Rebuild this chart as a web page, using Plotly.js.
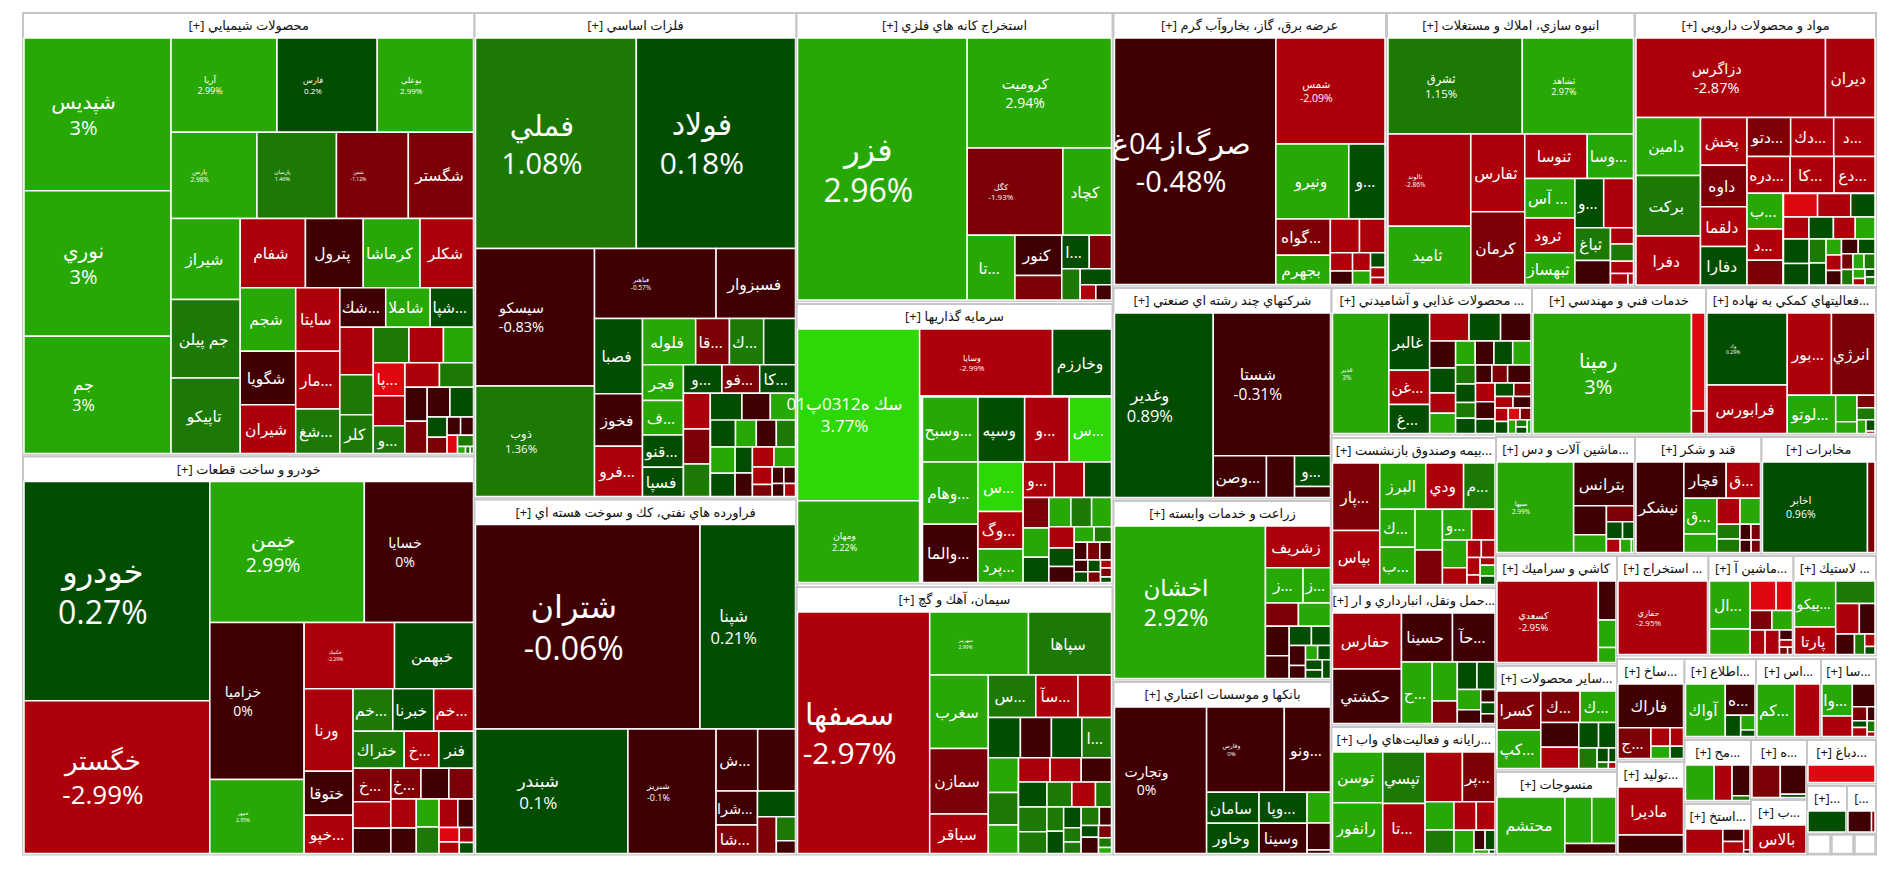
<!DOCTYPE html>
<html><head><meta charset="utf-8">
<script src="https://cdn.plot.ly/plotly-3.0.1.min.js"></script>
<style>html,body{margin:0;padding:0;background:#fff}#chart{width:1900px;height:873px}</style>
</head><body><div id="chart"></div>
<script>
// ---------- DATA: one set of small arrays per sector ----------
const chemT=['شپديس','نوري','جم','آريا','فارس','بوعلي','پارس','پارسان','شفن','شگستر','شيراز','جم پيلن','تاپيكو','شفام','پترول','كرماشا','شكلر','شجم','شگويا','شيران','سايتا','مار...','شغ...','شك...','شاملا','شپا...','','','كلر','','','','پا...','','و...'];
const chemV=[2011,1914,1544,894,846,812,663,614,555,503,501,486,468,404,358,352,331,315,266,242,251,228,176,162,157,153,142,120,116,114,110,96,93,85,79,75,74,68,64,61,63,36,29,22,21,17,16,5,3,2];
const chemC=[3,3,3,2.99,0.2,2.99,2.98,1.46,-1.12,-1.5,2.5,1.5,1.5,-2.5,-0.5,2.5,-2.5,2.5,-0.5,-2.5,-2.5,-2.5,1.5,-0.5,2.5,0.5,-2.5,1.5,1.5,1.5,-2.5,2.5,-3.5,-2.5,1.5,-2.5,1.5,-0.5,-1.5,-0.5,0.5,0.5,-1.5,-0.5,-0.5,-3.5,1.5,2.5,1.5,1.5];

const autoT=['خودرو','خگستر','خيمن','خسايا','خزاميا','خمهر','خكمك','خبهمن','ورنا','ختوقا','خپو...','خم...','خبرنا','خم...','ختراك','خ...','فنر','خ...','','','خ...'];
const autoV=[3653,2546,1954,1380,1328,626,537,469,362,193,168,152,156,152,170,115,115,113,90,86,83,77,68,66,58,57,54,48,40,26,21,19,14];
const autoC=[0.27,-2.99,2.99,0,0,2.95,-2.29,0.5,-2.5,-0.5,-2.5,1.5,0.5,-2.5,1.5,-2.5,0.5,-1.5,-2.5,-0.5,-1.5,-0.5,-1.5,-2.5,-0.5,2.5,1.5,-2.5,-0.5,-3.5,-2.5,-2.5,0.5];

const metalT=['فملي','فولاد','سيسكو','ذوب','فباهنر','فسبزوار','فصبا','فخوز','فرو...','فلوله','قا...','ك...','','فجر','ف...','قنو...','فسپا','و...','فو...','كا...'];
const metalV=[3024,2993,1463,1175,762,498,322,226,215,219,139,141,131,131,126,118,107,98,96,91,86,84,78,78,70,62,577];
const metalC=[1.08,0.18,-0.83,1.36,-0.57,-0.5,0.5,-0.5,-2.5,2.5,-1.5,1.5,0.5,2.5,2.5,0.5,0.5,0.5,-1.5,0.5,-2.5,-1.5,1.5,0.5,-0.5,2.5,null];
const metalRowV=[60,50,48,46];
const metalRowC=[0.5,2.5,-0.5,1.5];
const metalRestV=[57,51,40,36,38,38,31,21,17,17,14,13];
const metalRestC=[2.5,0.5,0.5,-0.5,-2.5,2.5,-2.5,-1.5,-0.5,-0.5,-0.5,-2.5];

const refT=['شتران','شپنا','شبندر','شبريز','ش...','','شرا...','شا...'];
const refV=[4100,1744,1697,981,231,210,126,105,87,62,41,22];
const refC=[-0.06,0.21,0.1,-0.1,-0.5,-0.5,-0.5,-1.5,0.5,-1.5,1.5,-0.5];

const mineT=['فزر','كروميت','كگل','كچاد','تا...','كنور','','ا...'];
const mineV=[3539,1263,666,338,246,150,91,73,59,46,40,19,19];
const mineC=[2.96,2.94,-1.93,2.5,2.5,-0.5,-1.5,0.5,-1.5,1.5,0.5,-2.5,-0.5];

const investT=['سك ه0312پ01','ومهان','وساپا','وخارزم',''];
const investV=[1657,788,703,312,2825];
const investC=[3.77,2.22,-2.99,0.5,null];
const investRowT=['وسبح...','وسپه','و...','س...'];
const investRowV=[286,241,230,218];
const investRowC=[2.5,0.5,-2.5,3.5];
const investRestT=['وهام...','والما...','س...','وگ...','پرد...','و...'];
const investRestV=[281,262,182,137,123,90,86,79,64,61,53,52,49,47,44,38,33,25,22,19,18,17,13,12,12,11,7,8,5];
const investRestC=[2.5,-0.5,3.5,-2.5,2.5,-2.5,-2.5,0.5,-1.5,2.5,0.5,2.5,1.5,2.5,-2.5,0.5,-0.5,2.5,1.5,-0.5,-1.5,-0.5,-0.5,0.5,0.5,-1.5,-2.5,-1.5,0.5];

const cementT=['سصفها','سهرمز','سپاها','سغرب','سمازن','سباقر','س...','سآ...','','','','','ا...'];
const cementV=[2860,558,469,385,345,207,180,160,127,116,112,110,107,94,88,77,70,69,67,592];
const cementC=[-2.97,2.99,1.5,2.5,-1.5,-2.5,1.5,-2.5,-2.5,0.5,-0.5,0.5,1.5,2.5,1.5,2.5,-2.5,-2.5,-0.5,null];
const cementRowV=[64,56,53,36];
const cementRowC=[0.5,1.5,-2.5,1.5];
const cementRestV=[62,55,36,33,32,22,18,30,20,18,25,14,11,7];
const cementRestC=[1.5,1.5,1.5,0.5,0.5,1.5,1.5,1.5,-0.5,0.5,-0.5,-1.5,1.5,2.5];

const elecT=['صرگ‌از04غ','شمس','ونيرو','و...','گواه...','بجهرم'];
const elecV=[3557,1033,490,243,176,143,88,77,36,27,29,22,19,13,9];
const elecC=[-0.48,-2.09,2.5,0.5,-1.5,2.5,-2.5,-2.5,-2.5,-0.5,-2.5,2.5,0.5,-2.5,-2.5];

const buildT=['ثشرق','ثشاهد','ثالوند','ثاميد','ثفارس','كرمان','ثنوسا','وسا...','آس ...','ثرود','ثبهساز','و...','','ثباغ'];
const buildV=[1273,1054,754,475,413,387,273,202,196,172,157,140,145,115,84,37,39,28,19,6];
const buildC=[1.15,2.97,-2.86,2.5,-2.5,-1.5,-2.5,2.5,2.5,-2.5,2.5,0.5,-2.5,1.5,-0.5,-2.5,1.5,-2.5,-2.5,-2.5];

const pharmaT=['دزاگرس','ديران','دامين','بركت','دفرا','پخش','داوه','دلقما','دفارا','دتو...','دك...','د...','دره...','كا...','دع...','ب...','د...'];
const pharmaV=[1332,348,330,346,279,196,171,164,158,150,148,142,140,143,133,114,100,79,746];
const pharmaC=[-2.87,-2.5,2.5,1.5,-2.5,-2.5,-1.5,-2.5,0.5,-1.5,-2.5,-2.5,-2.5,-2.5,-2.5,2.5,-2.5,-1.5,null];
const pharmaTopV=[73,71,52];
const pharmaTopC=[-3.5,-2.5,0.5];
const pharmaRowV=[49,47,42,38];
const pharmaRowC=[-2.5,0.5,-2.5,2.5];
const pharmaRestV=[56,49,36,33,22,21,20,22,22,16,16,15,15,10,7,7,7];
const pharmaRestC=[0.5,0.5,1.5,0.5,2.5,-2.5,-0.5,-0.5,0.5,-1.5,1.5,2.5,1.5,2.5,-2.5,0.5,1.5];

const multiT=['وغدير','شستا','وصن...','','و...',''];
const multiV=[1611,1479,197,104,98,35];
const multiC=[0.89,-0.31,-0.5,-0.5,0.5,-0.5];

const foodT=['غدير','غالبر','غن...','غ...'];
const foodV=[648,222,133,113,105,84,81,67,62,50,50,45,43,43,42,36,35,30,29,28,27,40,35,32,27,24,22,20,20,17,15,13,12,10,8,7,5];
const foodC=[3,0.5,-2.5,0.5,-2.5,0.5,-0.5,-0.5,0.5,-2.5,2.5,2.5,-0.5,0.5,2.5,1.5,0.5,1.5,0.5,-0.5,-1.5,-0.5,-2.5,-0.5,0.5,0.5,-1.5,-2.5,-0.5,-2.5,0.5,-3.5,-1.5,2.5,1.5,0.5,2.5];

const techT=['رمپنا','',''];
const techV=[1685,117,27];
const techC=[3,-3.5,-2.5];

const auxT=['وك','فرابورس','بور...','انرژي','لوتو...'];
const auxV=[510,344,321,316,164,50,22,20,19,11,9,2];
const auxC=[0.29,-2.5,-2.5,-1.5,2.5,2.5,2.5,-1.5,1.5,2.5,0.5,-2.5];

const agriT=['اخشان','زشريف','ز...','ز...'];
const agriV=[2265,267,130,95,76,74,69,53,42,36,32,21,17,18,17,14,15];
const agriC=[2.92,-2.5,2.5,2.5,-1.5,2.5,-0.5,-0.5,0.5,0.5,-0.5,-0.5,2.5,0.5,0.5,0.5,0.5];

const bankT=['وتجارت','وفارس','ونو...','سامان','وخاور','وپا...','وسينا','','',''];
const bankV=[1196,587,349,144,141,132,129,64,56,7];
const bankC=[0,0,-0.5,0.5,0.5,0.5,-0.5,2.5,-0.5,-0.5];

const insureT=['پار...','بپاس','البرز','ودي','م...','ك...','ب...','','','و...'];
const insureV=[279,224,186,153,127,118,115,98,83,79,63,60,36,22,21,20,11,10,14,11];
const insureC=[-1.5,-2.5,2.5,-2.5,1.5,2.5,2.5,2.5,-1.5,2.5,-2.5,2.5,-2.5,-2.5,-2.5,-2.5,-2.5,-2.5,2.5,0.5];

const transT=['حفارس','حكشتي','حسينا','حآ...','ح...'];
const transV=[334,326,216,180,164,85,49,47,43,41,28,16,14,12];
const transC=[-2.5,-0.5,-0.5,-0.5,2.5,2.5,-1.5,0.5,0.5,2.5,-0.5,-0.5,0.5,-0.5];

const compT=['توسن','رانفور','تپسي','تا...','','پر...'];
const compV=[225,225,192,187,164,143,72,60,56,47,41,19,17,5,2];
const compC=[2.5,2.5,1.5,-2.5,-2.5,-1.5,2.5,1.5,-2.5,-2.5,2.5,-0.5,0.5,2.5,0.5];

const machT=['سيها','بترانس'];
const machV=[598,228,82,50,38,24,17,16,13,3];
const machC=[2.99,-0.5,-0.5,2.5,-1.5,0.5,0.5,-2.5,2.5,2.5];

const sugarT=['نيشكر','قچار','ق...','ق...'];
const sugarV=[375,133,108,102,53,52,46,29,27,15,13,12,10];
const sugarC=[-0.5,-0.5,-2.5,2.5,2.5,-2.5,2.5,1.5,1.5,-0.5,-1.5,-0.5,-1.5];

const telT=['اخابر',''];
const telV=[823,59];
const telC=[0.96,-1.5];

const ceramT=['كسعدي','','',''];
const ceramV=[717,60,42,23];
const ceramC=[-2.95,-0.5,2.5,2.5];

const otherT=['كسرا','كپ...','ك...','ك...'];
const otherV=[145,144,105,96,80,69,43,38,32,14,9,6,4];
const otherC=[-1.5,2.5,-1.5,2.5,-0.5,-2.5,0.5,0.5,1.5,0.5,0.5,1.5,-2.5];

const textileT=['محتشم','','',''];
const textileV=[335,109,98,45];
const textileC=[2.5,2.5,2.5,-0.5];

const omineT=['حفاري'];
const omineV=[100];
const omineC=[-2.95];

const mach2T=['ال...'];
const mach2V=[166,88,65,41,36,34,31,30,11,8,5,3];
const mach2C=[2.5,2.5,-3.5,-3.5,-1.5,2.5,-2.5,-2.5,-0.5,-2.5,-1.5,-1.5];

const rubberT=['پيكو...','پارتا'];
const rubberV=[163,97,76,62,41,33,18,11,7];
const rubberC=[2.5,-2.5,1.5,-2.5,-0.5,-0.5,1.5,-2.5,0.5];

const sakhT=['فاراك','ج...'];
const sakhV=[244,86,30,20,21,14];
const sakhC=[-0.5,-1.5,-2.5,2.5,-2.5,0.5];

const tolidT=['ماديرا',''];
const tolidV=[273,105];
const tolidC=[-2.5,-0.5];

const infoT=['آواك','ه...'];
const infoV=[178,79,28,18,8];
const infoC=[2.5,-0.5,0.5,2.5,0.5];

const asT=['كم...',''];
const asV=[167,112];
const asC=[2.5,-2.5];

const saT=['وا...'];
const saV=[79,51,42,17,9,8,11,7,3];
const saC=[2.5,-2.5,-0.5,-1.5,-0.5,0.5,-2.5,1.5,-2.5];

const mahT=[''];
const mahV=[83,52,45,7];
const mahC=[2.5,-2.5,-0.5,1.5];

const haT=[''];
const haV=[75,61,7];
const haC=[-1.5,-0.5,0.5];

const dabT=[''];
const dabV=[100];
const dabC=[-3.5];

const estT=[''];
const estV=[77,22,21,11,2];
const estC=[-2.5,-0.5,-2.5,-2.5,-0.5];

const baT=['بالاس'];
const baV=[100];
const baC=[-2.5];

const sm1T=[''];const sm1V=[100];const sm1C=[0.5];
const sm2T=[''];const sm2V=[41,6];const sm2C=[-0.5,-1.5];
const emptyT=[''];const emptyV=[1];const emptyC=[null];
const noNames=[];

// ---------- SECTOR TITLES ----------
const sectorTitles=['[+] محصولات شيميايي','[+] خودرو و ساخت قطعات','[+] فلزات اساسي','[+] فراورده هاي نفتي، كك و سوخت هسته اي','[+] استخراج كانه هاي فلزي','[+] سرمايه گذاريها','[+] سيمان، آهك و گچ','[+] عرضه برق، گاز، بخاروآب گرم','[+] انبوه سازي، املاك و مستغلات','[+] مواد و محصولات دارويي','[+] شركتهاي چند رشته اي صنعتي','[+] محصولات غذايي و آشاميدني ...','[+] خدمات فني و مهندسي','[+] فعاليتهاي كمكي به نهاده...','[+] زراعت و خدمات وابسته','[+] بانكها و موسسات اعتباري','[+] بيمه وصندوق بازنشست...','[+] حمل ونقل، انبارداري و ار...','[+] رايانه و فعاليت‌هاي واب...','[+] ماشين آلات و دس...','[+] قند و شكر','[+] مخابرات','[+] كاشي و سراميك','[+] ساير محصولات...','[+] منسوجات','[+] استخراج ...','[+] ماشين آ...','[+] لاستيك ...','[+] ساخ...','[+] توليد...','[+] اطلاع...','[+] اس...','[+] سا...','[+] مح...','[+] ه...','[+] دباغ...','[+] استخ...','[+] ب...','[+]...','[...',null,null,null];

// ---------- LAYOUT TABLE (outer box of each sector: left,right,top,bottom in px) ----------
const sectorBoxes=[[23,474.5,13,454.5],[23,474.5,456.5,854.5],[474.5,796.5,13,497.5],[474.5,796.5,499.5,854.5],[796.5,1112.5,13,301],[796.5,1112.5,304,583.5],[796.5,1112.5,587,854.5],[1113.5,1386,13,285.5],[1387,1634.5,13,285.5],[1635,1876,13,286],[1113.5,1331.5,288,498.5],[1331.5,1532,288,434.5],[1532,1706,288,434.5],[1706,1876,288,434.5],[1113.5,1331.5,501,679.5],[1113.5,1331.5,682,854.5],[1331.5,1496,438,585.5],[1331.5,1496,588,724.5],[1331.5,1496,727,854.5],[1496,1635,437,553.5],[1635,1761.5,437,553.5],[1761.5,1876,437,553.5],[1496,1617,556,663.5],[1496,1617,666,769.5],[1496,1617,772,854.5],[1617,1708.5,556,655.5],[1708.5,1793.5,556,655.5],[1793.5,1876,556,655.5],[1617,1684.5,659,759.5],[1617,1684.5,762,854.5],[1684.5,1756,659,737.5],[1756,1821,659,737.5],[1821,1876,659,737.5],[1684.5,1751,740,801.5],[1751,1807,740,798.5],[1807,1876,740,783.5],[1684.5,1751,804,854.5],[1751,1807,800,854.5],[1807,1847,786,833],[1847,1876,786,833],[1807,1831,835,854.5],[1831,1854,835,854.5],[1854,1876,835,854.5]];

const sectorData=[[chemT,chemV,chemC],[autoT,autoV,autoC],[metalT,metalV,metalC],[refT,refV,refC],[mineT,mineV,mineC],[investT,investV,investC],[cementT,cementV,cementC],[elecT,elecV,elecC],[buildT,buildV,buildC],[pharmaT,pharmaV,pharmaC],[multiT,multiV,multiC],[foodT,foodV,foodC],[techT,techV,techC],[auxT,auxV,auxC],[agriT,agriV,agriC],[bankT,bankV,bankC],[insureT,insureV,insureC],[transT,transV,transC],[compT,compV,compC],[machT,machV,machC],[sugarT,sugarV,sugarC],[telT,telV,telC],[ceramT,ceramV,ceramC],[otherT,otherV,otherC],[textileT,textileV,textileC],[omineT,omineV,omineC],[mach2T,mach2V,mach2C],[rubberT,rubberV,rubberC],[sakhT,sakhV,sakhC],[tolidT,tolidV,tolidC],[infoT,infoV,infoC],[asT,asV,asC],[saT,saV,saC],[mahT,mahV,mahC],[haT,haV,haC],[dabT,dabV,dabC],[estT,estV,estC],[baT,baV,baC],[sm1T,sm1V,sm1C],[sm2T,sm2V,sm2C],[emptyT,emptyV,emptyC],[emptyT,emptyV,emptyC],[emptyT,emptyV,emptyC]];

// parts of a sector laid out on their own, over its empty remainder tile
const subParts=[
  {data:[investRowT,investRowV,investRowC],box:[922.5,1111.5,397,462],packing:'dice'},
  {data:[investRestT,investRestV,investRestC],box:[922.5,1111.5,462,582.5],packing:'squarify'},
  {data:[noNames,metalRowV,metalRowC],box:[710.5,795.5,420,447],packing:'dice'},
  {data:[noNames,metalRestV,metalRestC],box:[710.5,795.5,447,496.5],packing:'squarify'},
  {data:[noNames,cementRowV,cementRowC],box:[1018.5,1111.5,782,807],packing:'dice'},
  {data:[noNames,cementRestV,cementRestC],box:[1018.5,1111.5,807,853.5],packing:'squarify'},
  {data:[noNames,pharmaTopV,pharmaTopC],box:[1783.5,1875,193.5,217],packing:'dice'},
  {data:[noNames,pharmaRowV,pharmaRowC],box:[1783.5,1875,217,239],packing:'dice'},
  {data:[noNames,pharmaRestV,pharmaRestC],box:[1783.5,1875,239,285],packing:'squarify'}
];

// ---------- STYLE ----------
// font size of tiles that show the percentage; others show the ticker only
const percentFont={'خودرو':32,'خگستر':26,'خيمن':19.5,'خسايا':14,'خزاميا':14,'خمهر':5,'خكمك':5,'شپديس':20,'نوري':20,'جم':16,'آريا':9,'فارس':8,'بوعلي':8,'پارس':6.5,'پارسان':5.5,'شفن':5,'فملي':29,'فولاد':30,'سيسكو':14.5,'ذوب':11.5,'فباهنر':6.5,'شتران':32,'شپنا':16.5,'شبندر':17,'شبريز':9,'فزر':32,'كروميت':14,'كگل':8,'سك ه0312پ01':19,'ومهان':9,'وساپا':8,'سصفها':30,'سهرمز':5,'صرگ‌از04غ':29,'شمس':10.5,'ثشرق':11.5,'ثشاهد':9,'ثالوند':6.5,'دزاگرس':14.5,'وغدير':16.5,'شستا':15.5,'غدير':6.5,'رمپنا':20,'وك':5,'اخشان':23,'وتجارت':14,'وفارس':6,'سيها':6.5,'اخابر':10.5,'كسعدي':9.5,'حفاري':8};
const tickerFont=15.5;
const headerFont=13;
const FONT='"Open Sans","DejaVu Sans",sans-serif';
const W=1900,H=873,HEAD=25;
const percentNudge=-14,tickerNudge=-2;

function colorOf(c){
  if(c===null) return '#ffffff';
  if(c>3) return '#2ed806';
  if(c>=2) return '#27a805';
  if(c>=1) return '#1c7a04';
  if(c>0) return '#034d00';
  if(c>-1) return '#400003';
  if(c>-2) return '#7c0005';
  if(c>=-3) return '#ae000a';
  return '#e00810';
}

function buildTrace(d,box,title,packing,isPart){
  const T=d[0],V=d[1],C=d[2];
  const header=title||' ';
  const ids=['root'],labels=[header],parents=[''],values=[0],colors=['#ffffff'];
  const text=[header];
  const sizes=[headerFont],fcolors=['#111111'];
  const lw=[isPart?0:2],lc=['#c6c6c6'];
  for(let k=0;k<V.length;k++){
    ids.push('t'+k);labels.push('t'+k);parents.push('root');values.push(V[k]);
    const c=C[k];
    colors.push(colorOf(c));
    const name=k<T.length?T[k]:'';
    const pf=percentFont[name];
    text.push(name===''?'':(pf?name+'<br>'+c+'%':name));
    sizes.push(pf||tickerFont);fcolors.push('#ffffff');
    lw.push(1.5);lc.push(c===null&&title===null?'#c6c6c6':'#ffffff');
  }
  const noHead=!title;
  return {
    type:'treemap',ids:ids,labels:labels,parents:parents,values:values,
    branchvalues:'remainder',sort:false,text:text,textinfo:'text',
    textposition:'middle center',hoverinfo:'text',
    textfont:{family:FONT,size:sizes,color:fcolors},
    pathbar:{visible:false},
    tiling:{packing:packing,squarifyratio:1,pad:0},
    marker:{colors:colors,depthfade:false,line:{width:lw,color:lc},
      pad:{t:noHead?0:HEAD,l:isPart?0:1,r:isPart?0:1,b:isPart?0:1}},
    domain:{x:[box[0]/W,box[1]/W],y:[1-box[3]/H,1-box[2]/H]}
  };
}

const traces=sectorData.map(function(d,i){return buildTrace(d,sectorBoxes[i],sectorTitles[i],'squarify',false);})
  .concat(subParts.map(function(p){return buildTrace(p.data,p.box,'',p.packing,true);}));

// the reference sets its tile captions a little left of the tile centre
function nudgeCaptions(){
  document.querySelectorAll('g.slicetext text').forEach(function(t){
    const s=t.textContent||'';
    if(!s.trim()||s.charAt(0)==='[') return;
    const dx=s.indexOf('%')>=0?percentNudge:tickerNudge;
    t.setAttribute('transform','translate('+dx+',0) '+(t.getAttribute('transform')||''));
  });
}

Plotly.newPlot('chart',traces,{
  width:W,height:H,margin:{l:0,r:0,t:0,b:0},
  paper_bgcolor:'#ffffff',showlegend:false,
  font:{family:FONT}
},{displayModeBar:false}).then(nudgeCaptions);
</script></body></html>
